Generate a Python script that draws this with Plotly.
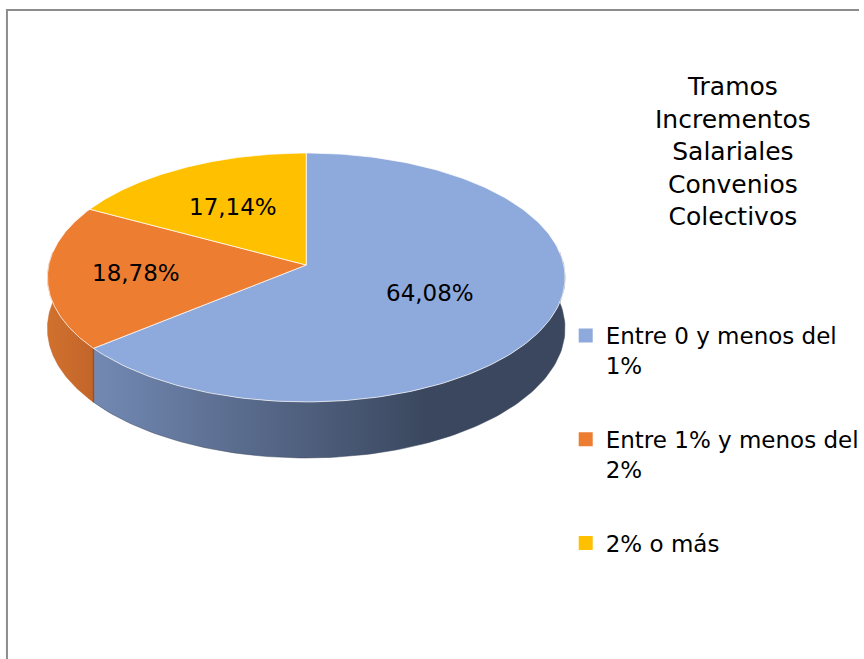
import numpy as np
import plotly.graph_objects as go

# ---------------- data ----------------
categories = ["Entre 0 y menos del 1%", "Entre 1% y menos del 2%", "2% o más"]
legend_labels = ["Entre 0 y menos del<br>1%", "Entre 1% y menos del<br>2%", "2% o más"]
values = [64.08, 18.78, 17.14]
value_labels = ["64,08%", "18,78%", "17,14%"]
title_lines = ["Tramos", "Incrementos", "Salariales", "Convenios", "Colectivos"]

# ---------------- style ----------------
top_colors = ["#8EA9DB", "#ED7D31", "#FFC000"]
side_colors = [["#7389B3", "#3A475E"], ["#D0712E", "#C3652A"], ["#D9A300", "#C79500"]]
label_r = [0.52, 0.66, 0.58]
FONT = "DejaVu Sans"

W, H = 864, 659
CX, CY = 308, 265      # pie apex in pixels
SR = 259               # horizontal radius
SV = 123.2             # vertical (foreshortened) radius
K = 0.1004             # perspective factor
DEPTH = 50.4           # side thickness


def proj(theta_deg, r=1.0, drop=0.0):
    t = np.radians(theta_deg)
    X = r * np.sin(t)
    Z = r * np.cos(t)
    den = 1 + K * Z
    return CX + SR * X / den, CY - SV * Z / den + drop * DEPTH / den


total = sum(values)
bounds = np.concatenate([[0], np.cumsum(values) / total * 360.0])

fig = go.Figure()

# ---- visible side walls (front half) ----
VIS0, VIS1 = 84.0, 276.0
for i in range(len(values)):
    a0, a1 = max(bounds[i], VIS0), min(bounds[i + 1], VIS1)
    if a1 <= a0:
        continue
    th = np.linspace(a0, a1, 120)
    xt, yt = proj(th)
    xb, yb = proj(th[::-1], drop=1.0)
    xs = np.concatenate([xt, xb, xt[:1]])
    ys = np.concatenate([yt, yb, yt[:1]])
    c0, c1 = side_colors[i]
    fig.add_trace(go.Scatter(
        x=xs, y=ys, mode="lines", fill="toself",
        line=dict(width=0.5, color=c1),
        fillcolor=c1,
        fillgradient=dict(type="horizontal", colorscale=[[0, c0], [1, c1]],
                          start=float(xt.min()),
                          stop=430.0 if i == 0 else float(xt.max())),
        showlegend=False, hoverinfo="skip"))

# edge between side walls
for b in bounds[1:-1]:
    if VIS0 < b < VIS1:
        x0, y0 = proj(b)
        x1, y1 = proj(b, drop=1.0)
        fig.add_trace(go.Scatter(x=[x0, x1], y=[y0, y1], mode="lines",
                                 line=dict(color="#9A5222", width=1.5),
                                 showlegend=False, hoverinfo="skip"))

# ---- top faces ----
for i in range(len(values)):
    th = np.linspace(bounds[i], bounds[i + 1], 200)
    xa, ya = proj(th)
    xs = np.concatenate([[CX], xa, [CX]])
    ys = np.concatenate([[CY], ya, [CY]])
    fig.add_trace(go.Scatter(
        x=xs, y=ys, mode="lines", fill="toself",
        line=dict(width=0.8, color="rgba(255,255,255,0.9)"),
        fillcolor=top_colors[i], name=categories[i],
        showlegend=False, hoverinfo="name"))

# ---- data labels ----
for i in range(len(values)):
    mid = (bounds[i] + bounds[i + 1]) / 2
    lx, ly = proj(mid, r=label_r[i])
    fig.add_annotation(x=lx, y=ly, text=value_labels[i], showarrow=False,
                       font=dict(family=FONT, size=23, color="black"),
                       xanchor="center", yanchor="middle")

# ---- legend entries ----
for i in range(len(values)):
    fig.add_trace(go.Scatter(
        x=[None], y=[None], mode="markers", name=legend_labels[i],
        legendgroup=str(i),
        marker=dict(symbol="square", size=14, color=top_colors[i])))

# ---- title ----
fig.add_annotation(x=737, y=151, text="<br>".join(title_lines), showarrow=False,
                   font=dict(family=FONT, size=25, color="black"),
                   xanchor="center", yanchor="middle", align="center")

# ---- chart border ----
fig.add_shape(type="rect", x0=7, y0=10, x1=W + 20, y1=H + 20,
              line=dict(color="#8C8C8C", width=2), layer="above")

fig.update_layout(
    width=W, height=H,
    margin=dict(l=0, r=0, t=0, b=0),
    paper_bgcolor="white", plot_bgcolor="white",
    xaxis=dict(range=[0, W], visible=False, fixedrange=True),
    yaxis=dict(range=[H, 0], visible=False, fixedrange=True),
    legend=dict(x=569 / W, y=1 - 314 / H, xanchor="left", yanchor="top",
                font=dict(family=FONT, size=23, color="black"),
                valign="top", tracegroupgap=41, itemsizing="trace",
                bgcolor="rgba(0,0,0,0)"),
    font=dict(family=FONT),
)

fig.write_html("out.html", config={"displayModeBar": False},
               post_script="document.body.style.margin='0';document.body.style.padding='0';")
